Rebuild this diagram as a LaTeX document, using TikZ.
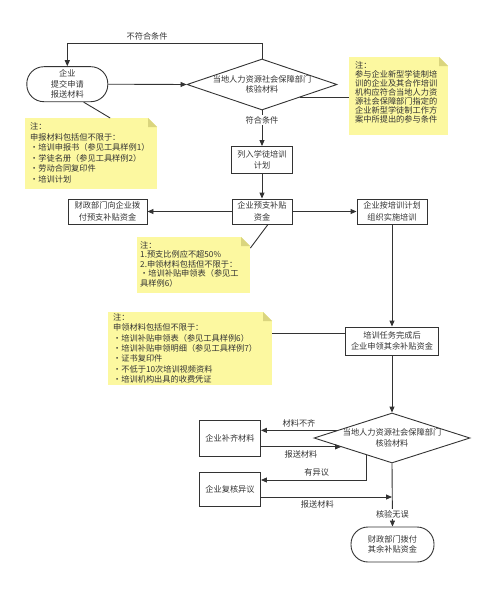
\documentclass[tikz,border=0pt]{standalone}
\usepackage{fontspec}
\setmainfont{Noto Sans CJK SC}
\usetikzlibrary{shapes.geometric,arrows.meta,calc}
\definecolor{ln}{HTML}{333333}
\definecolor{notey}{HTML}{FCF8A0}
\definecolor{foldy}{HTML}{DAD57E}
\newcommand\nbox[6]{\parbox[c][#2pt][t]{#1pt}{\fontsize{8.2}{#5}\selectfont\leftskip=#4pt\relax\vspace*{#3pt}#6}}
\begin{document}
\begin{tikzpicture}[x=1pt,y=-1pt,
  every node/.style={font=\fontsize{8.2}{10.5}\selectfont, text=ln},
  box/.style={draw=ln, line width=0.9pt, align=center, inner sep=0pt, font=\fontsize{8.2}{11.5}\selectfont},
  stadium/.style={draw=ln, line width=0.9pt, align=center, inner sep=0pt, rounded corners=17pt},
  dia/.style={draw=ln, line width=0.9pt, shape=diamond, inner sep=0pt, minimum width=#1},
  arr/.style={draw=ln, line width=0.9pt, -{Triangle[length=6pt,width=5pt]}},
  conn/.style={draw=ln, line width=0.9pt},
  lbl/.style={inner sep=1pt},
  note/.style={fill=notey, anchor=north west, inner sep=0pt, path picture={
      \fill[white] (path picture bounding box.north east) -- ++(-9,0) -- ++(9,9) -- cycle;
      \fill[foldy] (path picture bounding box.north east) ++(-9,0) -- ++(9,9) -- ++(-9,0) -- cycle;}}
]
\useasboundingbox (0,0) rectangle (500,594);

% main nodes
\node[stadium, minimum width=81pt, minimum height=35pt] (start) at (67.3,84.2) {企业\\提交申请\\报送材料};
\node[dia=150pt, minimum height=51pt, label={[name=d1t, align=center]center:当地人力资源社会保障部门\\核验材料}] (d1) at (262,84.5) {};
\node[box, minimum width=61pt, minimum height=27pt] (b1) at (262,160) {列入学徒培训\\计划};
\node[box, minimum width=60pt, minimum height=25pt] (b2) at (262,211.5) {企业预支补贴\\资金};
\node[box, minimum width=79pt, minimum height=25pt] (b3) at (107.5,211.5) {财政部门向企业拨\\付预支补贴资金};
\node[box, minimum width=70pt, minimum height=25pt] (b4) at (392,211.5) {企业按培训计划\\组织实施培训};
\node[box, minimum width=93pt, minimum height=28pt, font=\fontsize{8.2}{10.5}\selectfont] (b5) at (392,341) {培训任务完成后\\企业申领其余补贴资金};
\node[dia=156pt, minimum height=50pt, label={[name=d2t, align=center]center:当地人力资源社会保障部门\\核验材料}] (d2) at (392,438) {};
\node[box, minimum width=61pt, minimum height=36pt] (b6) at (230,438) {企业补齐材料};
\node[box, minimum width=61pt, minimum height=34pt] (b7) at (230,489) {企业复核异议};
\node[stadium, minimum width=83pt, minimum height=35pt] (end) at (392.5,544.5) {财政部门拨付\\其余补贴资金};

% notes
\node[note] (n1) at (349,57) {\nbox{99}{78}{4}{6}{9}{注：\\参与企业新型学徒制培\\训的企业及其合作培训\\机构应符合当地人力资\\源社会保障部门指定的\\企业新型学徒制工作方\\案中所提出的参与条件}};
\node[note] (n2) at (25,118) {\nbox{132}{71}{4.5}{5}{10.5}{注：\\申报材料包括但不限于：\\・培训申报书（参见工具样例1）\\・学徒名册（参见工具样例2）\\・劳动合同复印件\\・培训计划}};
\node[note] (n3) at (137,237) {\nbox{113}{56}{4}{3}{9.6}{注：\\1.预支比例应不超50\%\\2.申领材料包括但不限于：\\・培训补贴申领表（参见工\\具样例6）}};
\node[note] (n4) at (108,312) {\nbox{164}{73}{1.5}{5}{10.3}{注：\\申领材料包括但不限于：\\・培训补贴申领表（参见工具样例6）\\・培训补贴申领明细（参见工具样例7）\\・证书复印件\\・不低于10次培训视频资料\\・培训机构出具的收费凭证}};

% connectors
\draw[arr] (d1.north) -- ++(0,-15) -| node[lbl, pos=0.295, above=2pt] (l1) {不符合条件} (start.north);
\draw[arr] (start.east) -- (d1.west);
\draw[arr] (d1.south) -- node[lbl, pos=0.27, fill=white] (l2) {符合条件} (b1.north);
\draw[arr] (b1.south) -- (b2.north);
\draw[arr] (b2.west) -- (b3.east);
\draw[arr] (b2.east) -- (b4.west);
\draw[arr] (b4.south) -- (b5.north);
\draw[arr] (b5.south) -- (d2.north);

\coordinate (p1) at ($(d2.west)!0.3!(d2.north)$);
\draw[arr] (p1) -- node[lbl, above=2pt] (l3) {材料不齐} (b6.east |- p1);
\coordinate (p2) at ($(d2.west)!0.35!(d2.south)$);
\draw[arr] (b6.east |- p2) -- node[lbl, below=2pt] (l4) {报送材料} (p2);
\coordinate (p3) at ($(d2.west)!0.67!(d2.south)$);
\coordinate (p3e) at ($(b7.east)+(0,-9)$);
\draw[arr] (p3) |- node[lbl, pos=0.735, above=2pt] (l5) {有异议} (p3e);
\coordinate (p4) at ($(b7.east)+(0,8)$);
\draw[arr] (p4) -- node[lbl, pos=0.43, below=2pt] (l6) {报送材料} (d2.south |- p4);
\draw[arr] (d2.south) -- node[lbl, pos=0.8, fill=white] (l7) {核验无误} (end.north);

% note connectors
\coordinate (q1) at ($(d1.east)!0.5!(d1.south)$);
\draw[conn] (q1) -- (n1.west |- q1);
\draw[conn] ($(start.south)!0.4!(start.south east)$) -- ($(n2.north)+(19,0)$);
\draw[conn] ($(b2.south)+(6,0)$) -- ($(n3.north east)+(0,11)$);
\coordinate (q4) at ($(b5.west)+(0,-8)$);
\draw[conn] (q4) -- (n4.east |- q4);
\end{tikzpicture}
\end{document}
